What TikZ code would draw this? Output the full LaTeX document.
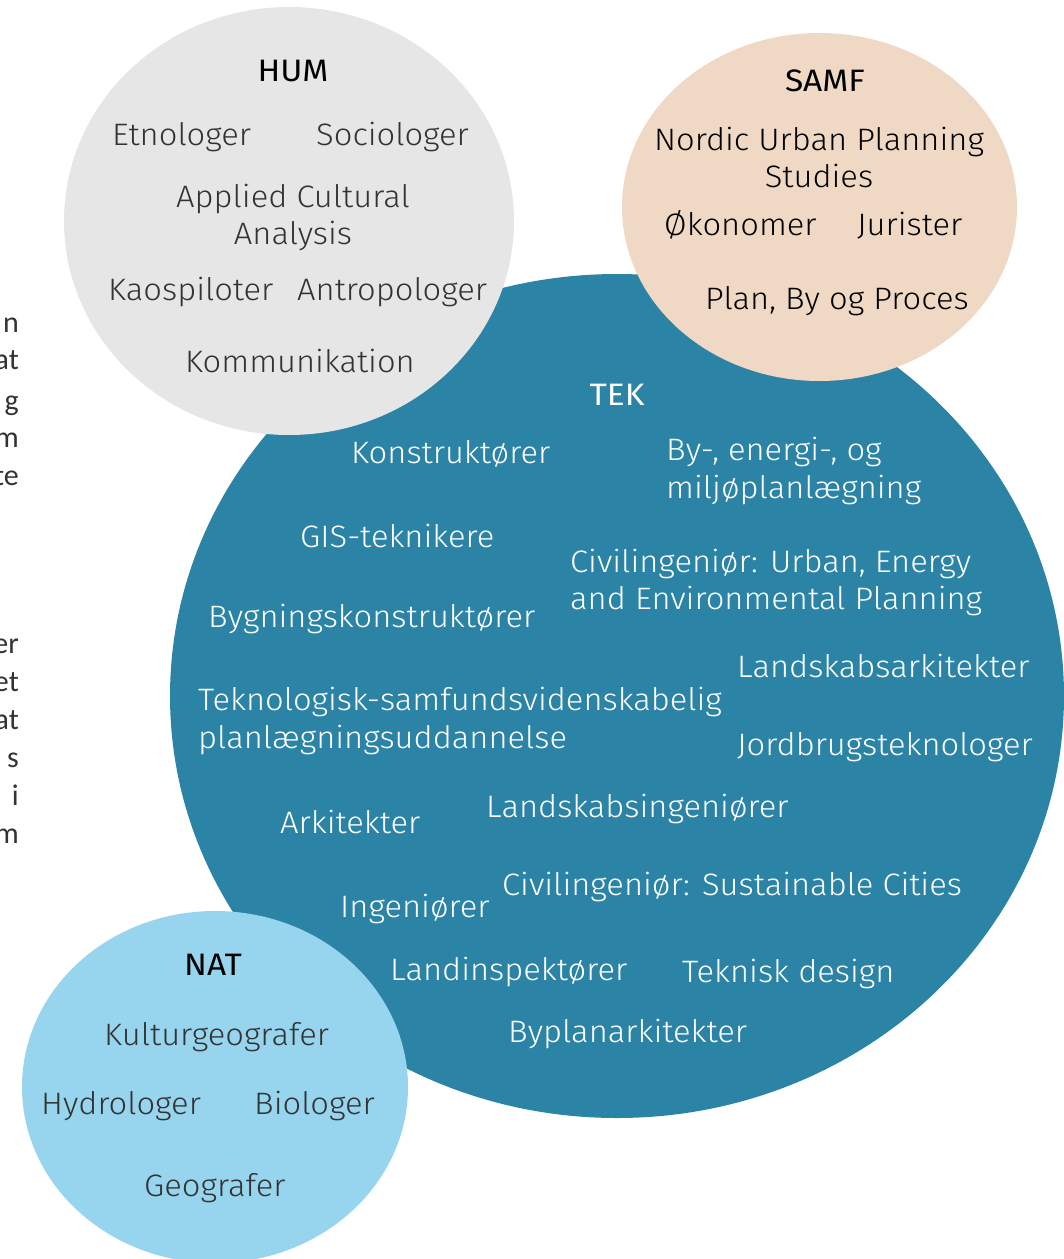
\documentclass[tikz,border=0pt]{standalone}
\usepackage{fontspec}
\setmainfont{Fira Sans Light}[FakeStretch=1.055]
\newfontfamily\headfont{Fira Sans}[FakeStretch=1.08]
\newfontfamily\bodyfont{Carlito}
\definecolor{humgray}{HTML}{E6E6E6}
\definecolor{samfpeach}{HTML}{F0D9C4}
\definecolor{tekblue}{HTML}{2B83A6}
\definecolor{natblue}{HTML}{97D5EF}
\definecolor{txtdark}{HTML}{333333}
\tikzset{
  lbl/.style={inner sep=0pt, anchor=west, text height=21pt, text depth=0pt, font=\fontsize{31}{37}\selectfont},
  dark/.style={lbl, text=txtdark},
  light/.style={lbl, text=white},
  head/.style={inner sep=0pt, anchor=center, text height=21pt, text depth=0pt, font=\headfont\fontsize{31}{37}\selectfont},
  frag/.style={inner sep=0pt, anchor=east, text height=14pt, text depth=0pt, text=txtdark, font=\bodyfont\fontsize{30}{36}\selectfont}
}
\begin{document}
\begin{tikzpicture}[x=1pt,y=-1pt]
\useasboundingbox (0,0) rectangle (1064,1259);
% page fragments on the left
\foreach \t/\y [count=\i] in {n/325,at/362,g/403,m/440,te/478,er/646,et/684,at/722,s/760,i/798,m/836}
  \node[frag] (f\i) at (19,\y) {\t};
% circles
\fill[tekblue] (617,696) ellipse [x radius=447pt, y radius=422pt];
\fill[humgray] (289,221) ellipse [x radius=225pt, y radius=214pt];
\fill[samfpeach] (819.5,207) ellipse [x radius=197.5pt, y radius=174pt];
\fill[natblue] (215,1087) ellipse [x radius=193pt, y radius=176pt];
% HUM
\node[head] (hum) at (293,71) {HUM};
\node[dark] (etn) at (112,135) {Etnologer};
\node[dark] (soc) at (316,135) {Sociologer};
\node[dark,anchor=center] (aca1) at (293,197) {Applied Cultural};
\node[dark,anchor=center] (aca2) at (293,234) {Analysis};
\node[dark] (kao) at (108,290) {Kaospiloter};
\node[dark] (ant) at (297,290) {Antropologer};
\node[dark] (kom) at (185,362) {Kommunikation};
% SAMF
\node[head] (samf) at (825,81) {SAMF};
\node[lbl,anchor=center,text=black] (nup1) at (819,140) {Nordic Urban Planning};
\node[lbl,anchor=center,text=black] (nup2) at (819,177) {Studies};
\node[lbl,text=black] (oko) at (664,225) {Økonomer};
\node[lbl,text=black] (jur) at (857,225) {Jurister};
\node[lbl,text=black] (pbp) at (705,299) {Plan, By og Proces};
% TEK
\node[head,text=white] (tek) at (617,395) {TEK};
\node[light] (kon) at (351,453) {Konstruktører};
\node[light] (bye1) at (666,450) {By-, energi-, og};
\node[light] (bye2) at (666,488) {miljøplanlægning};
\node[light] (gis) at (300,537) {GIS-teknikere};
\node[light] (ciu1) at (570,562) {Civilingeniør: Urban, Energy};
\node[light] (ciu2) at (570,599) {and Environmental Planning};
\node[light] (byg) at (208,617) {Bygningskonstruktører};
\node[light] (lsa) at (737,667) {Landskabsarkitekter};
\node[light] (tsp1) at (198,700) {Teknologisk-samfundsvidenskabelig};
\node[light] (tsp2) at (198,738) {planlægningsuddannelse};
\node[light] (jbt) at (737,745) {Jordbrugsteknologer};
\node[light] (lsi) at (486,807) {Landskabsingeniører};
\node[light] (ark) at (280,823) {Arkitekter};
\node[light] (csc) at (502,885) {Civilingeniør: Sustainable Cities};
\node[light] (ing) at (340,907) {Ingeniører};
\node[light] (lin) at (390,970) {Landinspektører};
\node[light] (tkd) at (682,972) {Teknisk design};
\node[light] (bpa) at (508,1032) {Byplanarkitekter};
% NAT
\node[head] (nat) at (213,965) {NAT};
\node[dark] (kul) at (104,1035) {Kulturgeografer};
\node[dark] (hyd) at (41,1104) {Hydrologer};
\node[dark] (bio) at (254,1104) {Biologer};
\node[dark] (geo) at (144,1186) {Geografer};
\end{tikzpicture}
\end{document}
